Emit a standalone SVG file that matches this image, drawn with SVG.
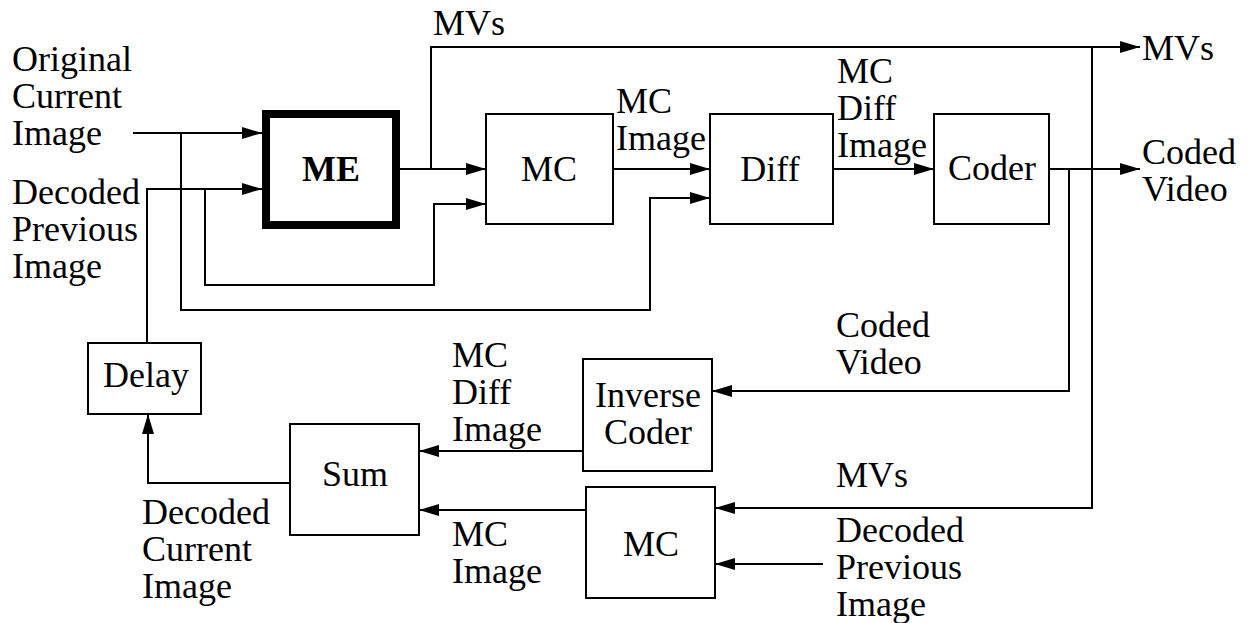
<svg xmlns="http://www.w3.org/2000/svg" width="1249" height="623" viewBox="0 0 1249 623" font-family="'Liberation Serif', 'Times New Roman', serif">
<style>
text{font-family:'Liberation Serif','Times New Roman',serif;font-size:36px;fill:#000}
.c{text-anchor:middle}
.box{fill:#fff;stroke:#000;stroke-width:2}
.ln{fill:none;stroke:#000;stroke-width:2}
.arr{marker-end:url(#ah)}
</style>
<defs>
<marker id="ah" markerUnits="userSpaceOnUse" markerWidth="22" markerHeight="14" refX="20" refY="6" orient="auto">
<path d="M0,0 L20,6 L0,12 z" fill="#000"/>
</marker>
</defs>
<rect width="1249" height="623" fill="#fff"/>
<g id="connectors">
<path class="ln arr" d="M133,133 H262"/>
<path class="ln arr" d="M181,133 V310 H650 V198 H710"/>
<path class="ln arr" d="M147,343 V189 H262"/>
<path class="ln arr" d="M205,189 V285 H434 V204 H486"/>
<path class="ln arr" d="M400,169 H486"/>
<path class="ln arr" d="M431,169 V47 H1140"/>
<path class="ln arr" d="M1092,47 V508 H715"/>
<path class="ln arr" d="M613,169 H710"/>
<path class="ln arr" d="M833,169 H934"/>
<path class="ln arr" d="M1049,169 H1140"/>
<path class="ln arr" d="M1069,169 V391 H712"/>
<path class="ln arr" d="M583,451 H419"/>
<path class="ln arr" d="M586,510 H419"/>
<path class="ln arr" d="M823,564 H715"/>
<path class="ln arr" d="M290,483 H148 V414"/>
</g>
<g id="ME">
<rect x="266" y="114" width="130" height="111" fill="#fff" stroke="#000" stroke-width="8"/>
<text class="c" x="331" y="181" font-weight="bold">ME</text>
</g>
<g id="MC">
<rect class="box" x="486" y="114" width="127" height="110"/>
<text class="c" x="549" y="181">MC</text>
</g>
<g id="Diff">
<rect class="box" x="710" y="114" width="123" height="110"/>
<text class="c" x="770" y="181">Diff</text>
</g>
<g id="Coder">
<rect class="box" x="934" y="114" width="115" height="110"/>
<text class="c" x="992" y="180">Coder</text>
</g>
<g id="Delay">
<rect class="box" x="88" y="343" width="113" height="71"/>
<text class="c" x="146" y="387">Delay</text>
</g>
<g id="Sum">
<rect class="box" x="290" y="424" width="129" height="111"/>
<text class="c" x="355" y="486">Sum</text>
</g>
<g id="InverseCoder">
<rect class="box" x="583" y="359" width="129" height="112"/>
<text class="c" x="648" y="407">Inverse</text>
<text class="c" x="648" y="444">Coder</text>
</g>
<g id="MC2">
<rect class="box" x="586" y="487" width="129" height="111"/>
<text class="c" x="651" y="556">MC</text>
</g>
<g id="labels">
<text x="12" y="71">Original</text>
<text x="12" y="108">Current</text>
<text x="12" y="145">Image</text>
<text x="12" y="204">Decoded</text>
<text x="12" y="241">Previous</text>
<text x="12" y="278">Image</text>
<text x="433" y="35">MVs</text>
<text x="616" y="113">MC</text>
<text x="616" y="150">Image</text>
<text x="837" y="83">MC</text>
<text x="837" y="120">Diff</text>
<text x="837" y="157">Image</text>
<text x="1142" y="60">MVs</text>
<text x="1142" y="164">Coded</text>
<text x="1142" y="201">Video</text>
<text x="836" y="337">Coded</text>
<text x="836" y="374">Video</text>
<text x="452" y="367">MC</text>
<text x="452" y="404">Diff</text>
<text x="452" y="441">Image</text>
<text x="836" y="487">MVs</text>
<text x="452" y="546">MC</text>
<text x="452" y="583">Image</text>
<text x="836" y="542">Decoded</text>
<text x="836" y="579">Previous</text>
<text x="836" y="616">Image</text>
<text x="142" y="524">Decoded</text>
<text x="142" y="561">Current</text>
<text x="142" y="598">Image</text>
</g>
</svg>
